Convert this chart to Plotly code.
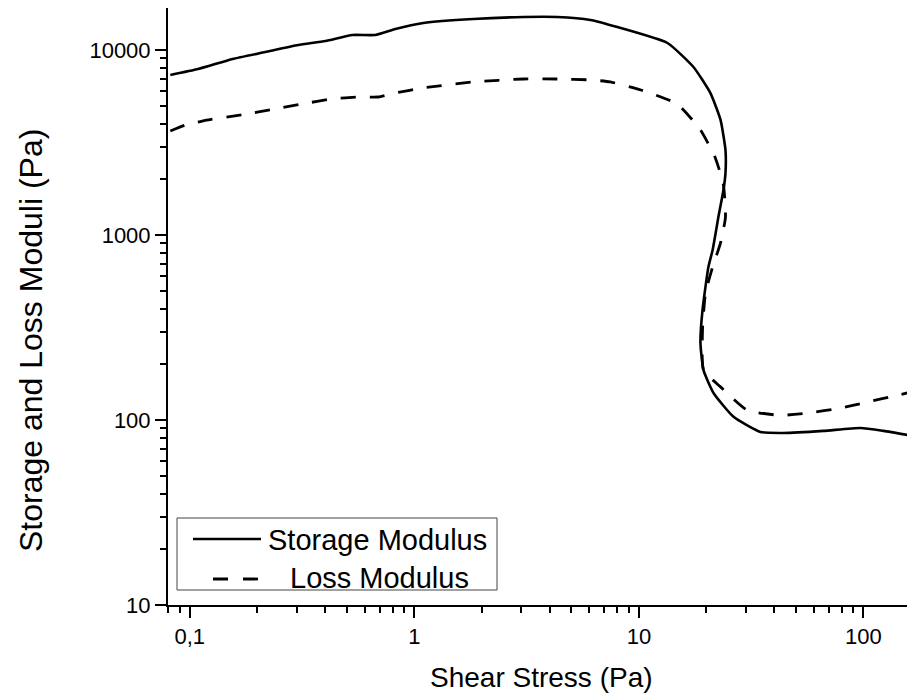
import plotly.graph_objects as go

# Storage modulus G' vs shear stress (solid curve)
shear_storage = [0.0819, 0.109, 0.155, 0.217, 0.304, 0.402, 0.530, 0.670, 0.823, 1.097,
                 1.83, 3.06, 4.33, 6.08, 8.02, 13.4, 17.5, 20.8, 23.1, 24.3,
                 24.3, 23.8, 22.6, 21.3, 20.4, 19.2, 18.8, 19.4, 21.5, 26.4,
                 34.8, 44.0, 66.4, 97.0, 123, 157]
storage_modulus = [7330, 7890, 8940, 9750, 10640, 11190, 12060, 12060, 12990, 14000,
                   14720, 15070, 15070, 14530, 13300, 10910, 8090, 5860, 4190, 2880,
                   2160, 1750, 1250, 830, 671, 393, 261, 186, 140, 104,
                   86.1, 85.1, 87.3, 90.6, 87.3, 83.0]

# Loss modulus G'' vs shear stress (dashed curve)
shear_loss = [0.0819, 0.0955, 0.121, 0.171, 0.240, 0.317, 0.431, 0.563, 0.691, 0.823,
              1.097, 1.83, 3.06, 4.33, 6.08, 7.46, 10.2, 14.8, 18.8, 21.9,
              23.8, 24.3, 23.1, 21.3, 19.8, 19.2, 19.4, 23.1, 30.4, 42.7,
              56.3, 79.0, 104, 142, 157]
loss_modulus = [3650, 3930, 4190, 4460, 4800, 5110, 5440, 5570, 5570, 5860,
                6240, 6720, 6970, 6970, 6890, 6720, 6080, 5110, 3700, 2610,
                1860, 1250, 906, 671, 485, 306, 186, 151, 113, 106,
                109, 116, 125, 136, 140]

series_names = ["Storage Modulus", "Loss Modulus"]

x_major = [0.1, 1, 10, 100]
x_major_text = ["0,1", "1", "10", "100"]
y_major = [10, 100, 1000, 10000]
y_major_text = ["10", "100", "1000", "10000"]

x_minor = [m * d for d in (0.01, 0.1, 1, 10) for m in range(2, 10)]
y_minor = [m * d for d in (10, 100, 1000) for m in range(2, 10)]

FONT = "Liberation Sans, Arial, sans-serif"

fig = go.Figure()
fig.add_trace(go.Scatter(
    x=shear_storage, y=storage_modulus, mode="lines", name=series_names[0],
    line=dict(color="black", width=2.6, shape="spline", smoothing=0.5),
    showlegend=False,
))
fig.add_trace(go.Scatter(
    x=shear_loss, y=loss_modulus, mode="lines", name=series_names[1],
    line=dict(color="black", width=2.8, dash="15px,14px", shape="spline", smoothing=0.5),
    showlegend=False,
))

axis_common = dict(
    type="log", showgrid=False, zeroline=False, showline=True,
    linecolor="black", linewidth=2, ticks="outside", tickcolor="black",
    tickwidth=2, ticklen=11, mirror=False,
    tickfont=dict(family=FONT, size=22, color="black"),
)

fig.update_xaxes(
    **axis_common, range=[-1.097, 2.194], tickmode="array",
    tickvals=x_major, ticktext=x_major_text,
    minor=dict(tickvals=x_minor, ticks="outside", ticklen=6, tickwidth=2, tickcolor="black"),
)
fig.update_yaxes(
    **axis_common, range=[1, 4.227], tickmode="array",
    tickvals=y_major, ticktext=y_major_text,
    minor=dict(tickvals=y_minor, ticks="outside", ticklen=6, tickwidth=2, tickcolor="black"),
)

# plot area spans 168..907 px horizontally and 8..605 px vertically
W_PLOT, H_PLOT, L, B = 739.0, 597.0, 168.0, 605.0


def px(x):
    return (x - L) / W_PLOT


def py(y):
    return (B - y) / H_PLOT


shapes = [
    # legend frame
    dict(type="rect", xref="paper", yref="paper",
         x0=px(177), x1=px(497), y0=py(590), y1=py(518),
         line=dict(color="#444444", width=1), fillcolor="white", layer="above"),
    # legend samples
    dict(type="line", xref="paper", yref="paper",
         x0=px(193), x1=px(261), y0=py(539), y1=py(539),
         line=dict(color="black", width=2.6), layer="above"),
    dict(type="line", xref="paper", yref="paper",
         x0=px(213), x1=px(258), y0=py(579), y1=py(579),
         line=dict(color="black", width=2.8, dash="15px,15px"), layer="above"),
]

annotations = [
    dict(text=series_names[0], xref="paper", yref="paper", x=px(266), y=py(540),
         xanchor="left", yanchor="middle", showarrow=False,
         font=dict(family=FONT, size=29, color="black")),
    dict(text=series_names[1], xref="paper", yref="paper", x=px(288), y=py(578),
         xanchor="left", yanchor="middle", showarrow=False,
         font=dict(family=FONT, size=29, color="black")),
    dict(text="Shear Stress (Pa)", xref="paper", yref="paper", x=px(541), y=py(678),
         xanchor="center", yanchor="middle", showarrow=False,
         font=dict(family=FONT, size=28, color="black")),
    dict(text="Storage and Loss Moduli (Pa)", xref="paper", yref="paper", x=px(31), y=py(341),
         xanchor="center", yanchor="middle", showarrow=False, textangle=-90,
         font=dict(family=FONT, size=32, color="black")),
]

fig.update_layout(
    width=907, height=695,
    margin=dict(l=168, r=0, t=8, b=90),
    paper_bgcolor="white", plot_bgcolor="white",
    shapes=shapes, annotations=annotations,
    showlegend=False,
)

fig.write_html("out.html")
